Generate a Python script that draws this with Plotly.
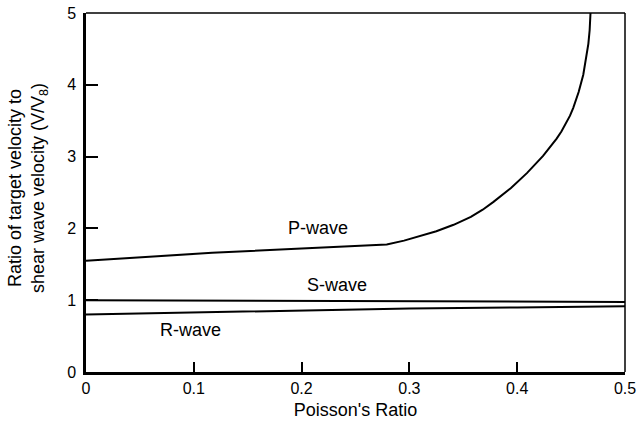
import plotly.graph_objects as go

# Poisson's ratio sample points and velocity ratios for each wave type
p_nu = [0.0, 0.05, 0.117, 0.2, 0.279, 0.295, 0.31, 0.325, 0.341, 0.357, 0.368,
        0.378, 0.394, 0.409, 0.424, 0.432, 0.4366, 0.441, 0.445, 0.449, 0.452,
        0.457, 0.4613, 0.464, 0.466, 0.4672, 0.468]
p_ratio = [1.55, 1.60, 1.66, 1.72, 1.775, 1.83, 1.89, 1.96, 2.05, 2.16, 2.26,
           2.37, 2.56, 2.77, 3.01, 3.16, 3.25, 3.35, 3.45, 3.57, 3.68,
           3.90, 4.14, 4.36, 4.57, 4.76, 5.0]

s_nu = [0.0, 0.25, 0.5]
s_ratio = [1.0, 0.99, 0.976]

r_nu = [0.0, 0.1, 0.2, 0.3, 0.4, 0.5]
r_ratio = [0.80, 0.83, 0.86, 0.885, 0.90, 0.916]

x_ticks = [0, 0.1, 0.2, 0.3, 0.4, 0.5]
x_tick_text = ["0", "0.1", "0.2", "0.3", "0.4", "0.5"]
y_ticks = [0, 1, 2, 3, 4, 5]

FONT = "Liberation Sans, Arial, sans-serif"
line_style = dict(color="black", width=2)

fig = go.Figure()
fig.add_trace(go.Scatter(x=p_nu, y=p_ratio, mode="lines", line=line_style))
fig.add_trace(go.Scatter(x=s_nu, y=s_ratio, mode="lines", line=line_style))
fig.add_trace(go.Scatter(x=r_nu, y=r_ratio, mode="lines", line=line_style))

# curve labels
for text, x, y in [("P-wave", 0.215, 2.0), ("S-wave", 0.2325, 1.21), ("R-wave", 0.0965, 0.58)]:
    fig.add_annotation(x=x, y=y, text=text, showarrow=False,
                       font=dict(family=FONT, size=18, color="black"))

# y-axis title, two lines, rotated
fig.add_annotation(xref="paper", yref="paper", x=(28 - 86) / 539, y=(372 - 188) / 359,
                   xanchor="center", yanchor="middle", textangle=-90, showarrow=False,
                   text="Ratio of target velocity to<br>shear wave velocity (V/V<sub>8</sub>)",
                   font=dict(family=FONT, size=18, color="black"))

# thinner top and right frame lines
fig.add_shape(type="line", xref="paper", yref="paper", x0=0, x1=1, y0=1, y1=1,
              line=dict(color="black", width=1.5))
fig.add_shape(type="line", xref="paper", yref="paper", x0=1, x1=1, y0=0, y1=1,
              line=dict(color="black", width=1.5))

fig.update_layout(
    width=638, height=425,
    margin=dict(l=86, r=13, t=13, b=53),
    paper_bgcolor="white", plot_bgcolor="white",
    showlegend=False,
    font=dict(family=FONT, size=16, color="black"),
    xaxis=dict(range=[0, 0.5], tickvals=x_ticks, ticktext=x_tick_text,
               ticks="inside", ticklen=10, tickwidth=2, tickcolor="black",
               showline=True, linecolor="black", linewidth=2.5,
               showgrid=False, zeroline=False, automargin=False,
               title=dict(text="Poisson's Ratio", font=dict(size=18), standoff=8)),
    yaxis=dict(range=[0, 5], tickvals=y_ticks,
               ticks="inside", ticklen=12, tickwidth=2, tickcolor="black",
               showline=True, linecolor="black", linewidth=2.5,
               showgrid=False, zeroline=False, automargin=False, ticklabelstandoff=4),
)

fig.write_html("out.html")
